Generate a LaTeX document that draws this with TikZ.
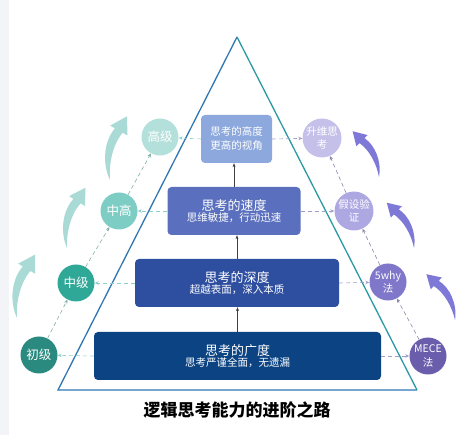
\documentclass[tikz,border=0pt]{standalone}
\usepackage{fontspec}
\setmainfont{Noto Sans CJK SC}
\usetikzlibrary{arrows.meta,positioning}
\definecolor{EdgeGray}{HTML}{F2F4F8}
\definecolor{PyrBlue}{HTML}{2F76B4}
\definecolor{PyrTeal}{HTML}{2A9AA2}
\definecolor{HeightBlue}{HTML}{8DA8DD}
\definecolor{SpeedBlue}{HTML}{5A70BF}
\definecolor{DepthBlue}{HTML}{2E4E9F}
\definecolor{BreadthBlue}{HTML}{0B4383}
\definecolor{LvlOne}{HTML}{B3E0DB}
\definecolor{LvlTwo}{HTML}{7ECDC4}
\definecolor{LvlThree}{HTML}{2FA898}
\definecolor{LvlFour}{HTML}{2A8A7F}
\definecolor{MthOne}{HTML}{C5C0EA}
\definecolor{MthTwo}{HTML}{ADA8E2}
\definecolor{MthThree}{HTML}{7F77C9}
\definecolor{MthFour}{HTML}{6A5EAC}
\definecolor{ArrowTeal}{HTML}{A9DAD6}
\definecolor{ArrowPurple}{HTML}{7E79D6}
\definecolor{LinkTeal}{HTML}{8FCFC9}
\definecolor{LinkPurple}{HTML}{A29DC6}
\tikzset{
  fatarrow/.pic={
    \fill[#1] (0,0) .. controls (-12,-14) and (-14,-34) .. (-7.8,-46.5)
      -- (-12.6,-47.8) -- (0,-60) -- (4.8,-43.2) -- (0,-44.5)
      .. controls (-6,-32) and (-5,-14) .. (0,0) -- cycle;
  }
}

\begin{document}
\begin{tikzpicture}[x=1pt,y=-1pt,
  stage/.style={rectangle,rounded corners=4pt,text=white,align=center,inner sep=0pt,minimum height=48pt},
  lvlcirc/.style={circle,minimum size=37pt,inner sep=0pt,text=white,align=center},
  link/.style={dash pattern=on 4pt off 3pt,line width=0.6pt,-{Stealth[length=4pt,width=3.5pt]}},
  stepup/.style={line width=0.5pt,black!75,-{Stealth[length=4pt,width=3pt]}}]
\useasboundingbox (0,0) rectangle (466,435);
\fill[EdgeGray] (0,0) rectangle (9,435);
% pyramid
\coordinate (apex) at (237,37);
\coordinate (baseL) at (58,390);
\coordinate (baseR) at (417,390);
\draw[PyrBlue,line width=1.3pt] (apex) -- (baseL) -- (baseR);
\draw[PyrTeal,line width=1.3pt] (apex) -- (baseR);
% stages
\node[stage,fill=HeightBlue,minimum width=71pt,font=\fontsize{10.5}{14}\selectfont] (sHeight) at (236.5,139) {思考的高度\\更高的视角};
\foreach \name/\x/\y/\w/\col/\main/\sub in {sSpeed/234/211/133/SpeedBlue/思考的速度/{思维敏捷，行动迅速},
    sDepth/237/283/204/DepthBlue/思考的深度/{超越表面，深入本质},
    sBreadth/237.5/356/287/BreadthBlue/思考的广度/{思考严谨全面，无遗漏}} {
  \node[stage,fill=\col,minimum width=\w pt] (\name) at (\x,\y)
    {{\fontsize{13}{15}\selectfont\main}\\[-1pt]{\fontsize{10.5}{13}\selectfont\sub}};
}
\foreach \a/\b in {sBreadth/sDepth,sDepth/sSpeed,sSpeed/sHeight}
  \draw[stepup] (\a.north) -- (\a.north |- \b.south);
% levels
\foreach \name/\x/\y/\col/\txt in {cAdv/160/137/LvlOne/高级,cUpper/119/211/LvlTwo/中高,
    cMid/76/283/LvlThree/中级,cBeg/39/355/LvlFour/初级}
  \node[lvlcirc,fill=\col,font=\fontsize{12.5}{14}\selectfont] (\name) at (\x,\y) {\txt};
% methods
\foreach \name/\x/\y/\col/\txt in {mUp/322/138/MthOne/{升维思\\考},mHypo/354/211/MthTwo/{假设验\\证},
    mWhy/388/282/MthThree/{5why\\法},mMece/428/356/MthFour/{MECE\\法}}
  \node[lvlcirc,fill=\col,font=\fontsize{10.5}{13.5}\selectfont] (\name) at (\x,\y) {\txt};
% dashed links
\foreach \b/\c/\m in {sHeight/cAdv/mUp,sSpeed/cUpper/mHypo,sDepth/cMid/mWhy,sBreadth/cBeg/mMece} {
  \draw[link,LinkTeal] (\b.west) -- (\c);
  \draw[link,LinkPurple] (\b.east) -- (\m);
}
\foreach \a/\b in {cBeg/cMid,cMid/cUpper,cUpper/cAdv}
  \draw[link,LinkTeal!80!black!90] (\a) -- (\b);
\foreach \a/\b in {mMece/mWhy,mWhy/mHypo,mHypo/mUp}
  \draw[link,LinkPurple!85!black] (\a) -- (\b);
% growth arrows
\foreach \x/\y/\r/\s in {17/318/-16/1.1,67/248/-17/1.05,110/180/-15/1.1}
  \pic[rotate=\r,scale=\s] at (\x,\y) {fatarrow=ArrowTeal};
\foreach \x/\y/\r/\s in {379/177/30/0.88,414/248/31/0.88,455/320/32/0.9}
  \pic[rotate=\r,xscale=-1,scale=\s] at (\x,\y) {fatarrow=ArrowPurple};
\node[font=\fontsize{17}{20}\selectfont\bfseries] (title) at (237,410) {逻辑思考能力的进阶之路};
\end{tikzpicture}
\end{document}
